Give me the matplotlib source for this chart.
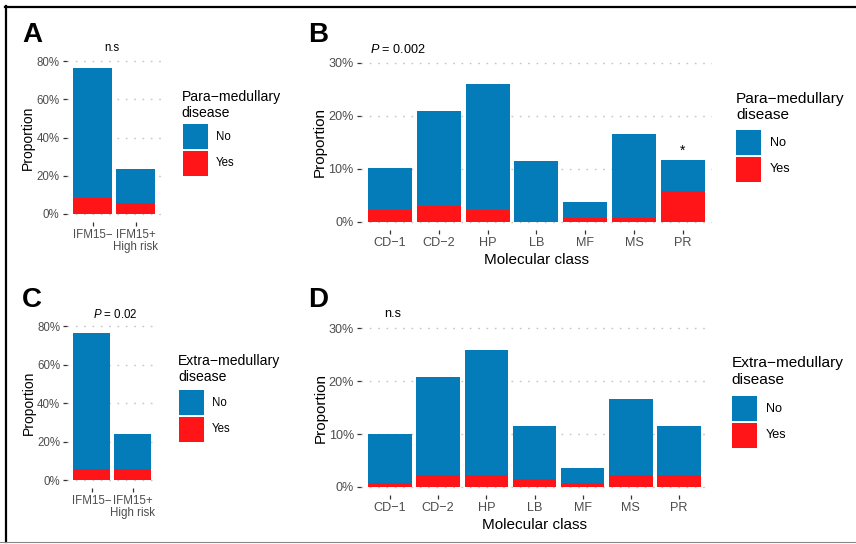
import matplotlib
matplotlib.use("Agg")
import matplotlib.pyplot as plt
from matplotlib.patches import Rectangle
from matplotlib.lines import Line2D

plt.rcParams["font.family"] = ["Liberation Sans", "DejaVu Sans"]
plt.rcParams["mathtext.fontset"] = "custom"
plt.rcParams["mathtext.it"] = "Liberation Sans:italic"
plt.rcParams["mathtext.rm"] = "Liberation Sans"

# data (percent of patients)
risk_groups = ["IFM15\u2212", "IFM15+\nHigh risk"]
para_risk_no = [67.9, 17.7]
para_risk_yes = [8.4, 5.8]
extra_risk_no = [70.4, 18.1]
extra_risk_yes = [5.9, 5.9]

classes = ["CD\u22121", "CD\u22122", "HP", "LB", "MF", "MS", "PR"]
para_class_no = [7.9, 17.95, 23.8, 11.4, 2.95, 15.8, 5.85]
para_class_yes = [2.2, 2.95, 2.2, 0.0, 0.7, 0.7, 5.7]
extra_class_no = [9.25, 18.6, 23.7, 10.05, 2.85, 14.4, 9.3]
extra_class_yes = [0.75, 2.2, 2.2, 1.45, 0.75, 2.2, 2.2]

BLUE = "#057CBA"
RED = "#FF1518"
W, H = 856, 544

fig = plt.figure(figsize=(W / 100, H / 100), dpi=100)


def px_axes(l, t, r, b):
    return fig.add_axes([l / W, 1 - b / H, (r - l) / W, (b - t) / H])


def ftext(x, y, s, **kw):
    return fig.text(x / W, 1 - y / H, s, **kw)


def stacked(ax, labels, no, yes, ymax, step, sc, xlabel=None):
    x = list(range(1, len(labels) + 1))
    ax.bar(x, yes, width=0.9, color=RED, zorder=2)
    ax.bar(x, no, bottom=yes, width=0.9, color=BLUE, zorder=2)
    ax.set_xlim(0.4, len(labels) + 0.6)
    ax.set_ylim(-0.05 * ymax, 1.05 * ymax)
    ticks = list(range(0, ymax + 1, step))
    ax.set_yticks(ticks)
    ax.set_yticklabels([f"{t}%" for t in ticks])
    ax.set_xticks(x)
    ax.set_xticklabels(labels, linespacing=1.0)
    for s in ax.spines.values():
        s.set_visible(False)
    ax.grid(axis="y", color="#C4C4C4", linestyle=(0, (1.2, 4.8)), linewidth=1.0, zorder=0)
    ax.tick_params(length=3, width=0.9, color="#333333", labelcolor="#4D4D4D",
                   labelsize=8.3 * sc, pad=2)
    ax.set_ylabel("Proportion", fontsize=10 * sc, labelpad=1)
    if xlabel:
        ax.set_xlabel(xlabel, fontsize=10 * sc, labelpad=3)
    ax.set_facecolor("none")


def legend(tx, ty, kx, ky, lx, title, sc):
    ftext(tx, ty - 1, title, fontsize=10.1 * sc, va="top", ha="left", linespacing=1.22)
    for lab, col in [("No", BLUE), ("Yes", RED)]:
        fig.add_artist(Rectangle((kx / W, 1 - (ky + 25) / H), 25 / W, 25 / H,
                                 transform=fig.transFigure, color=col, lw=0))
        ftext(lx, ky + 12.5, lab, fontsize=8.3 * sc, va="center", ha="left")
        ky += 26.7


SMALL, BIG = 1.0, 1.1

axA = px_axes(66.5, 53.4, 162, 221.6)
stacked(axA, risk_groups, para_risk_no, para_risk_yes, 80, 20, SMALL)
ftext(112, 50.7, "n.s", fontsize=8.3, ha="center", va="baseline")
legend(181.7, 90.7, 183, 124, 216, "Para\u2212medullary\ndisease", SMALL)

axB = px_axes(360.5, 54.75, 712.3, 229.65)
stacked(axB, classes, para_class_no, para_class_yes, 30, 10, BIG, "Molecular class")
axB.text(7, para_class_no[6] + para_class_yes[6] + 0.6, "*", ha="center", va="bottom",
         fontsize=10)
ftext(398, 52.7, "$P$ = 0.002", fontsize=8.3 * BIG, ha="center", va="baseline")
legend(736, 92.7, 736, 130, 770, "Para\u2212medullary\ndisease", BIG)

axC = px_axes(67.1, 318.3, 157.3, 488)
stacked(axC, risk_groups, extra_risk_no, extra_risk_yes, 80, 20, SMALL)
ftext(115, 317.7, "$P$ = 0.02", fontsize=8.3, ha="center", va="baseline")
legend(178.3, 355, 179, 390, 212, "Extra\u2212medullary\ndisease", SMALL)

axD = px_axes(361.1, 320.4, 707.9, 494.9)
stacked(axD, classes, extra_class_no, extra_class_yes, 30, 10, BIG, "Molecular class")
ftext(393, 316.7, "n.s", fontsize=8.3 * BIG, ha="center", va="baseline")
legend(731.6, 357.3, 732, 396, 765.6, "Extra\u2212medullary\ndisease", BIG)

for lab, x, y in [("A", 22, 42.5), ("B", 308.5, 42.5), ("C", 22, 307), ("D", 308.5, 307)]:
    ftext(x, y, lab, fontsize=20, fontweight="bold", ha="left", va="baseline")

# frame: black top and left, thin grey bottom
fig.add_artist(Line2D([5 / W, 1], [1 - 6.8 / H, 1 - 6.8 / H], transform=fig.transFigure,
                      color="black", lw=1.6))
fig.add_artist(Line2D([6.3 / W, 6.3 / W], [1 - 6 / H, 1 - 541.5 / H], transform=fig.transFigure,
                      color="black", lw=1.6))
fig.add_artist(Line2D([0, 1], [1 - 541.6 / H, 1 - 541.6 / H], transform=fig.transFigure,
                      color="#888888", lw=0.8))

fig.savefig("out.png", dpi=100)
